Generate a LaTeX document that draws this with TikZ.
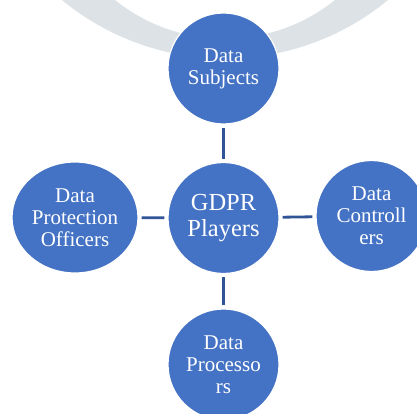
\documentclass[tikz,border=0pt]{standalone}
\usepackage{fontspec}
\setmainfont{Liberation Serif}
\usetikzlibrary{shapes.geometric}
\definecolor{nodeblue}{HTML}{4472C4}
\definecolor{linkblue}{HTML}{2F5597}
\definecolor{bandgray}{HTML}{DCE2E6}
\tikzset{
  player/.style={circle, fill=nodeblue, draw=white, line width=1.2pt, minimum size=111pt, inner sep=0pt,
    text=white, align=center, font=\fontsize{21}{22}\selectfont},
  hub/.style={player, font=\fontsize{24.5}{26}\selectfont},
  officer/.style={player, ellipse, minimum width=126pt, minimum height=111pt},
  link/.style={draw=linkblue, line width=2.8pt, shorten <=3pt, shorten >=3pt},
  band/.style={fill=bandgray, even odd rule}
}
\begin{document}
\begin{tikzpicture}[x=1pt,y=-1pt]
\useasboundingbox (0,0) rectangle (417,414);
\clip (0,0) rectangle (417,414);
\fill[band] (225,-198) circle[radius=256.5pt] (225,-137) circle[radius=175.7pt];
\node[hub] (c) at (223.5,218) {GDPR\\Players};
\node[player] (t) at (223.5,68.5) {Data\\Subjects};
\node[officer] (l) at (75,217.5) {Data\\Protection\\Officers};
\node[player] (r) at (371.5,216) {Data\\Controll\\ers};
\node[player] (b) at (223.5,364.5) {Data\\Processo\\rs};
\draw[link] (c) -- (t);
\draw[link] (c) -- (l);
\draw[link] (c) -- (r);
\draw[link] (c) -- (b);
\end{tikzpicture}
\end{document}
